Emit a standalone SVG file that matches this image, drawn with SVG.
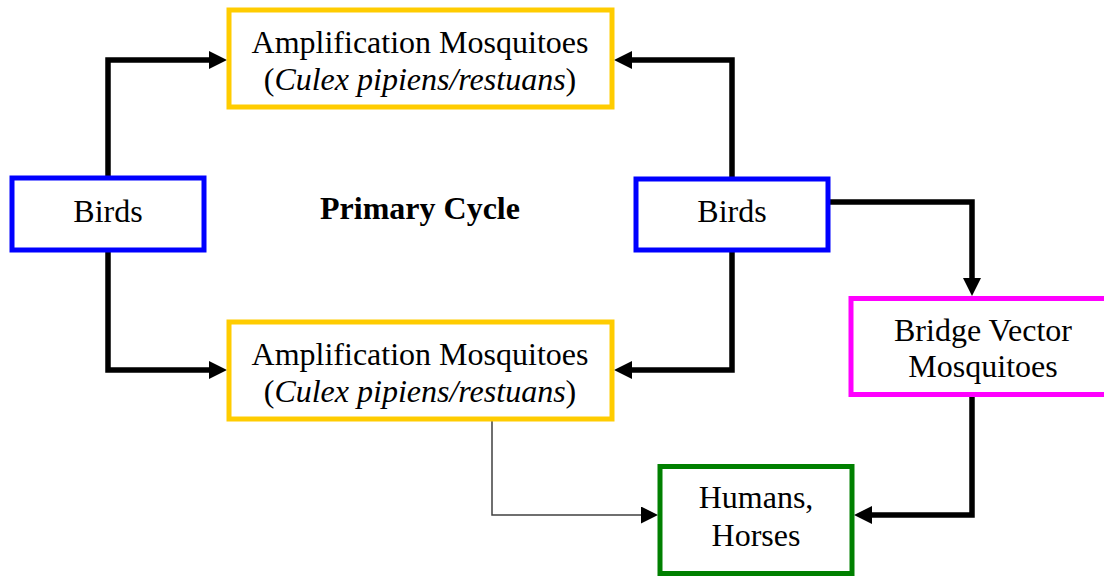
<svg xmlns="http://www.w3.org/2000/svg" width="1104" height="576" viewBox="0 0 1104 576">
<defs>
<style>
.box{fill:#fff;stroke-width:5}
.t{font-family:"Liberation Serif","Times New Roman",serif;font-size:32px;fill:#000;text-anchor:middle}
.c{fill:none;stroke:#000;stroke-width:5.5}
.thin{fill:none;stroke:#404040;stroke-width:1.5}
</style>
<marker id="ah" viewBox="0 0 10 10" refX="0" refY="5" markerWidth="18" markerHeight="18" markerUnits="userSpaceOnUse" orient="auto">
<path d="M0,0 L10,5 L0,10 Z" fill="#000"/>
</marker>
<marker id="ahs" viewBox="0 0 10 10" refX="0" refY="5" markerWidth="17" markerHeight="17" markerUnits="userSpaceOnUse" orient="auto">
<path d="M0,0 L10,5 L0,10 Z" fill="#000"/>
</marker>
</defs>
<rect width="1104" height="576" fill="#fff"/>
<g id="connectors">
<path class="c" d="M108,178 V60 H209" marker-end="url(#ah)"/>
<path class="c" d="M108,250 V370 H209" marker-end="url(#ah)"/>
<path class="c" d="M732,178 V60 H632" marker-end="url(#ah)"/>
<path class="c" d="M732,250 V370 H632" marker-end="url(#ah)"/>
<path class="c" d="M828,202 H972 V278" marker-end="url(#ah)"/>
<path class="c" d="M972,396 V515 H872" marker-end="url(#ah)"/>
<path class="thin" d="M492,419 V515 H641" marker-end="url(#ahs)"/>
</g>
<g id="amp-top">
<rect class="box" x="229" y="10" width="383" height="97" stroke="#ffcc00"/>
<text class="t" x="420" y="53">Amplification Mosquitoes</text>
<text class="t" x="420" y="90">(<tspan font-style="italic">Culex pipiens/restuans</tspan>)</text>
</g>
<g id="amp-bottom">
<rect class="box" x="229" y="322" width="383" height="97" stroke="#ffcc00"/>
<text class="t" x="420" y="365">Amplification Mosquitoes</text>
<text class="t" x="420" y="402">(<tspan font-style="italic">Culex pipiens/restuans</tspan>)</text>
</g>
<g id="birds-left">
<rect class="box" x="12" y="178" width="192" height="72" stroke="#0000ff"/>
<text class="t" x="108" y="222">Birds</text>
</g>
<g id="birds-right">
<rect class="box" x="636" y="179" width="192" height="71" stroke="#0000ff"/>
<text class="t" x="732" y="222">Birds</text>
</g>
<g id="label">
<text class="t" x="420" y="219" font-weight="bold" font-size="31">Primary Cycle</text>
</g>
<g id="bridge">
<rect class="box" x="851" y="298.5" width="264" height="96" stroke="#ff00ff"/>
<text class="t" x="983" y="341">Bridge Vector</text>
<text class="t" x="983" y="377">Mosquitoes</text>
</g>
<g id="humans">
<rect class="box" x="660" y="466.5" width="192" height="107" stroke="#008000"/>
<text class="t" x="756" y="508">Humans,</text>
<text class="t" x="756" y="546">Horses</text>
</g>
</svg>
